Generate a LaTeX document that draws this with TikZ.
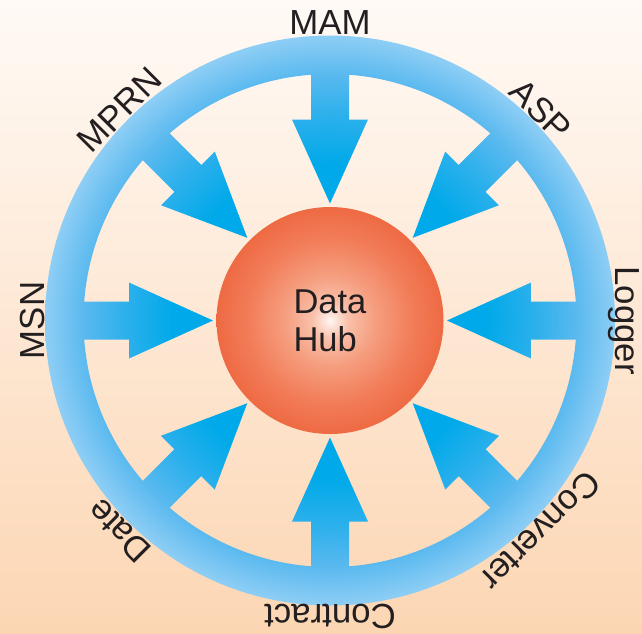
\documentclass[tikz,border=0pt]{standalone}
\usepackage{fontspec}
\setmainfont{Liberation Sans}
\usetikzlibrary{calc}
\definecolor{bgtop}{HTML}{FFFAF6}
\definecolor{bgmid}{HTML}{FDEDE0}
\definecolor{bgbot}{HTML}{FCD6B3}
\definecolor{txt}{HTML}{231F20}
\definecolor{bA}{HTML}{00A9E9}
\definecolor{bB}{HTML}{2CB0EC}
\definecolor{bC}{HTML}{5AB9EF}
\definecolor{bD}{HTML}{8ECEF5}
\definecolor{hA}{HTML}{FFF6F2}
\definecolor{hB}{HTML}{F9C0AA}
\definecolor{hC}{HTML}{F59E7F}
\definecolor{hD}{HTML}{F27D59}
\definecolor{hE}{HTML}{EE6A43}
\pgfdeclareradialshading{bluegrad}{\pgfpoint{0bp}{0bp}}{%
  color(0bp)=(bA); color(13.75bp)=(bA); color(18bp)=(bB);
  color(21.6bp)=(bC); color(25bp)=(bD); color(50bp)=(bD)}
\pgfdeclareradialshading{hubgrad}{\pgfpoint{0bp}{0bp}}{%
  color(0bp)=(hA); color(4bp)=(hB); color(10bp)=(hC);
  color(18bp)=(hD); color(25bp)=(hE); color(50bp)=(hE)}
\tikzset{
  lbl/.style={font=\fontsize{34.8}{40}\selectfont, text=txt, inner sep=0pt, anchor=base},
  hubstyle/.style={circle, minimum size=227pt, inner sep=0pt, shade, shading=hubgrad,
    align=left, text=txt, font=\fontsize{34.5}{38.3}\selectfont},
  arrowshade/.style={shading=bluegrad}
}
\begin{document}
\begin{tikzpicture}[x=1pt,y=1pt]
\useasboundingbox (0,0) rectangle (642,-633);
\shade[top color=bgtop, middle color=bgmid, bottom color=bgbot] (0,0) rectangle (642,-633);
\coordinate (C) at (330,-320.5);
% ring
\begin{scope}[even odd rule]
  \clip (C) circle[radius=285] (C) circle[radius=246.5];
  \shade[arrowshade] (C) circle[radius=285];
\end{scope}
% arrows (polar points, unrotated shading)
\foreach \a in {0,45,...,315}{
  \begin{scope}[shift={(C)}]
    \clip (\a:117) -- ({\a+10.706}:204.56) -- ({\a+5.4}:201.9) -- ({\a+4.086}:266.68)
      -- ({\a-4.086}:266.68) -- ({\a-5.4}:201.9) -- ({\a-10.706}:204.56) -- cycle;
    \shade[arrowshade] (0,0) circle[radius=285];
  \end{scope}
}
% hub
\node[hubstyle] (hub) at (C) {Data\\Hub};
% labels
\node[lbl, rotate=0]    (mam)  at ($(C)+(90:286)$)  {MAM};
\node[lbl, rotate=-45]  (asp)  at ($(C)+(45:286)$)  {ASP};
\node[lbl, rotate=-90]  (logger) at ($(C)+(0:285)$) {Logger};
\node[lbl, rotate=-135] (conv) at ($(C)+(-45:286)$) {Converter};
\node[lbl, rotate=180]  (contract) at ($(C)+(-90:284)$) {Contract};
\node[lbl, rotate=135]  (date) at ($(C)+(-135:286)$) {Date};
\node[lbl, rotate=90]   (msn)  at ($(C)+(180:286)$) {MSN};
\node[lbl, rotate=45]   (mprn) at ($(C)+(135:286)$) {MPRN};
\end{tikzpicture}
\end{document}
